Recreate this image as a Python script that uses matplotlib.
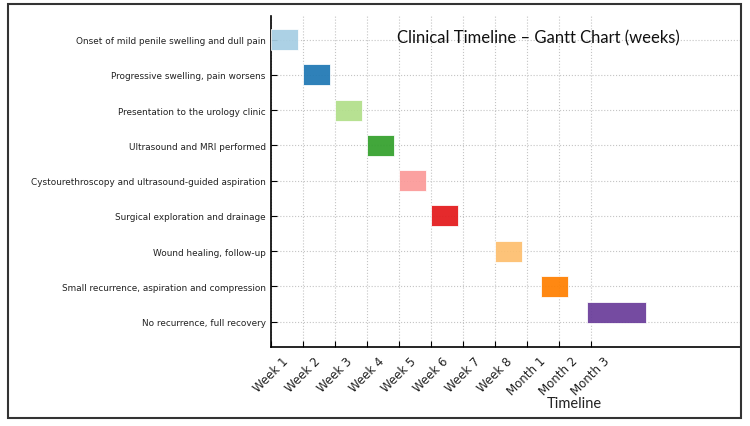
import matplotlib.pyplot as plt
from matplotlib.patches import Rectangle

# data ------------------------------------------------------------
events = ['Onset of mild penile swelling and dull pain',
          'Progressive swelling, pain worsens',
          'Presentation to the urology clinic',
          'Ultrasound and MRI performed',
          'Cystourethroscopy and ultrasound-guided aspiration',
          'Surgical exploration and drainage',
          'Wound healing, follow-up',
          'Small recurrence, aspiration and compression',
          'No recurrence, full recovery']
starts = [0, 1, 2, 3, 4, 5, 7, 8.45, 9.9]
durations = [0.85, 0.85, 0.85, 0.85, 0.85, 0.85, 0.85, 0.85, 1.82]
rows = [0, 1, 2, 3, 4, 5, 6, 7, 7.74]
colors = ['#a6cee3', '#1f78b4', '#b2df8a', '#33a02c', '#fb9a99',
          '#e31a1c', '#fdbf6f', '#ff7f00', '#6a3d9a']
tick_labels = ['Week 1', 'Week 2', 'Week 3', 'Week 4', 'Week 5', 'Week 6',
               'Week 7', 'Week 8', 'Month 1', 'Month 2', 'Month 3']

# plot ------------------------------------------------------------
fig = plt.figure(figsize=(7.5, 4.27), dpi=100)
ax = fig.add_axes([270.7/750, (427-348)/427, (741-270.7)/750, (348-17)/427])

ax.barh(rows, durations, left=starts, height=0.6, color=colors,
        edgecolor='white', linewidth=0.6, alpha=0.93, zorder=3)

ax.set_yticks(range(len(events)))
ax.set_yticklabels(events, fontsize=6.4, color='#222222')
ax.set_xticks(range(len(tick_labels)))
ax.set_xticklabels(tick_labels, rotation=45, ha='center', fontsize=8.5, color='#222222')
ax.set_xlim(0, 14.7)
ax.set_ylim(8.72, -0.67)
ax.tick_params(direction='in', length=4)
ax.tick_params(axis='x', pad=5)
ax.grid(True, linestyle=':', color='#c4c4c4', linewidth=0.8)
ax.spines['top'].set_visible(False)
ax.spines['right'].set_visible(False)
for s in ['left', 'bottom']:
    ax.spines[s].set_linewidth(1.2)

ax.text(0.57, 0.935, 'Clinical Timeline \u2013 Gantt Chart (weeks)', transform=ax.transAxes,
        ha='center', va='center', fontsize=12, family='Lato', color='#111111')
fig.text(574/750, 1-404/427, 'Timeline', ha='center', va='center', fontsize=10.5,
         family='Lato', color='#222222')

fig.patches.append(Rectangle((8/750, 1-419/427), (741-8)/750, (419-5)/427,
                             transform=fig.transFigure, fill=False,
                             edgecolor='#333333', linewidth=1.5))

fig.savefig('out.png', dpi=100)
